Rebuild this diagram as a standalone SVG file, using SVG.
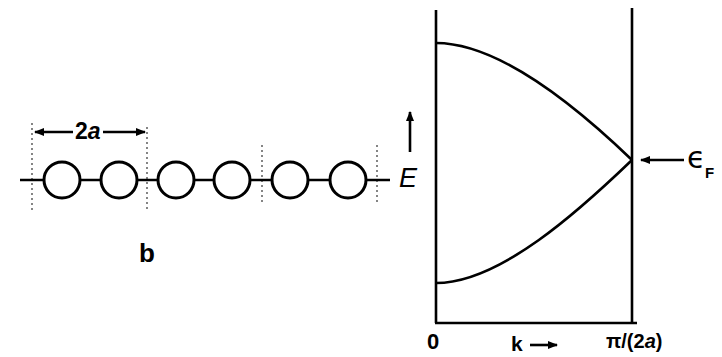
<svg xmlns="http://www.w3.org/2000/svg" width="722" height="357" viewBox="0 0 722 357">
<defs>
<style>
.ln{stroke:#000;stroke-width:2.6;fill:none}
.at{fill:#fff;stroke:#000;stroke-width:3}
.dot{stroke:#444;stroke-width:1.3;stroke-dasharray:2 3;fill:none}
.t{font-family:"Liberation Sans",Arial,sans-serif;font-weight:bold;fill:#000}
</style>
<marker id="ah" viewBox="0 0 10 10" refX="9" refY="5" markerWidth="4" markerHeight="4" orient="auto-start-reverse">
<path d="M0,1 L10,5 L0,9 Z" fill="#000"/>
</marker>
</defs>
<rect width="722" height="357" fill="#fff"/>
<g id="chain">
<g id="cells">
<line class="dot" x1="32" y1="123" x2="32" y2="212"/>
<line class="dot" x1="147" y1="127" x2="147" y2="209"/>
<line class="dot" x1="262" y1="145" x2="262" y2="204"/>
<line class="dot" x1="377" y1="145" x2="377" y2="205"/>
</g>
<line class="ln" x1="20" y1="180" x2="390" y2="180"/>
<g id="atoms">
<circle class="at" cx="62" cy="180" r="18"/>
<circle class="at" cx="119" cy="180" r="18"/>
<circle class="at" cx="176" cy="180" r="18"/>
<circle class="at" cx="232" cy="180" r="18"/>
<circle class="at" cx="290" cy="180" r="18"/>
<circle class="at" cx="348" cy="180" r="18"/>
</g>
<g id="dim2a">
<line class="ln" x1="73" y1="132" x2="35" y2="132" marker-end="url(#ah)"/>
<line class="ln" x1="103" y1="132" x2="145" y2="132" marker-end="url(#ah)"/>
<text class="t" x="75" y="139" font-size="23">2<tspan font-style="italic">a</tspan></text>
</g>
<text class="t" x="139" y="262" font-size="26">b</text>
</g>
<g id="band">
<g id="frame">
<line class="ln" x1="436" y1="10" x2="436" y2="323"/>
<line class="ln" x1="632" y1="8" x2="632" y2="324"/>
<line class="ln" x1="435" y1="323" x2="637" y2="323"/>
</g>
<g id="curves">
<path class="ln" d="M436,43 C500,43 580,110 632,160"/>
<path class="ln" d="M436,283 C500,283 580,210 632,160"/>
</g>
<g id="axisE">
<line class="ln" x1="410" y1="152" x2="410" y2="112" marker-end="url(#ah)"/>
<text x="399" y="187" font-family="Liberation Sans,Arial,sans-serif" font-style="italic" font-size="27">E</text>
</g>
<g id="fermi">
<line class="ln" x1="684" y1="160" x2="641" y2="160" marker-end="url(#ah)"/>
<text x="687" y="168" font-family="DejaVu Sans,sans-serif" font-size="30">ϵ</text>
<text class="t" x="705" y="178" font-size="15">F</text>
</g>
<g id="klabels">
<text class="t" x="427" y="349" font-size="22">0</text>
<text class="t" x="511" y="351" font-size="21">k</text>
<line class="ln" x1="530" y1="345" x2="557" y2="345" marker-end="url(#ah)"/>
<text class="t" x="606" y="348" font-size="20">π/(2<tspan font-style="italic">a</tspan>)</text>
</g>
</g>
</svg>
